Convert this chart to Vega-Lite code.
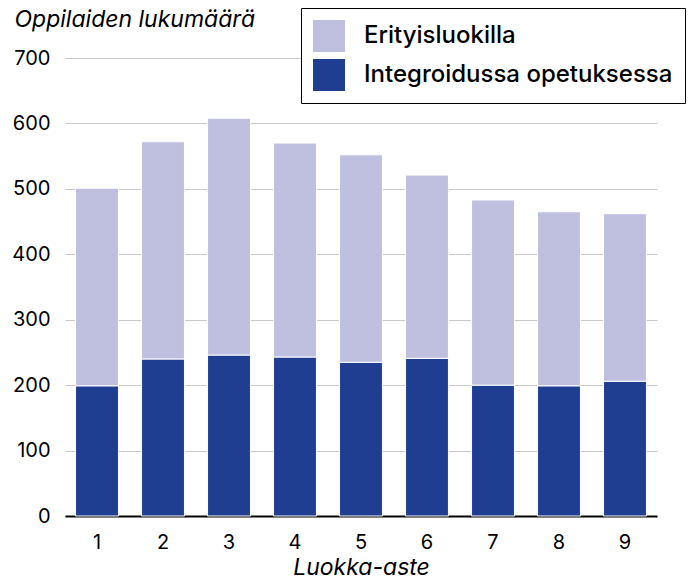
{
  "$schema": "https://vega.github.io/schema/vega-lite/v6.json",
  "width": 592,
  "height": 458,
  "autosize": "none",
  "padding": {"left": 65, "top": 58, "right": 31, "bottom": 65},
  "background": "white",
  "data": {
    "values": [
      {"luokka": "1", "ryhma": "Integroidussa opetuksessa", "arvo": 199, "jarj": 1},
      {"luokka": "1", "ryhma": "Erityisluokilla", "arvo": 302, "jarj": 2},
      {"luokka": "2", "ryhma": "Integroidussa opetuksessa", "arvo": 240, "jarj": 1},
      {"luokka": "2", "ryhma": "Erityisluokilla", "arvo": 332, "jarj": 2},
      {"luokka": "3", "ryhma": "Integroidussa opetuksessa", "arvo": 246, "jarj": 1},
      {"luokka": "3", "ryhma": "Erityisluokilla", "arvo": 362, "jarj": 2},
      {"luokka": "4", "ryhma": "Integroidussa opetuksessa", "arvo": 243, "jarj": 1},
      {"luokka": "4", "ryhma": "Erityisluokilla", "arvo": 327, "jarj": 2},
      {"luokka": "5", "ryhma": "Integroidussa opetuksessa", "arvo": 235, "jarj": 1},
      {"luokka": "5", "ryhma": "Erityisluokilla", "arvo": 317, "jarj": 2},
      {"luokka": "6", "ryhma": "Integroidussa opetuksessa", "arvo": 241, "jarj": 1},
      {"luokka": "6", "ryhma": "Erityisluokilla", "arvo": 280, "jarj": 2},
      {"luokka": "7", "ryhma": "Integroidussa opetuksessa", "arvo": 200, "jarj": 1},
      {"luokka": "7", "ryhma": "Erityisluokilla", "arvo": 283, "jarj": 2},
      {"luokka": "8", "ryhma": "Integroidussa opetuksessa", "arvo": 199, "jarj": 1},
      {"luokka": "8", "ryhma": "Erityisluokilla", "arvo": 266, "jarj": 2},
      {"luokka": "9", "ryhma": "Integroidussa opetuksessa", "arvo": 206, "jarj": 1},
      {"luokka": "9", "ryhma": "Erityisluokilla", "arvo": 256, "jarj": 2}
    ]
  },
  "mark": {"type": "bar", "stroke": "white", "strokeWidth": 1},
  "encoding": {
    "x": {
      "field": "luokka",
      "type": "ordinal",
      "scale": {"paddingInner": 0.35, "paddingOuter": 0.16},
      "axis": {
        "title": "Luokka-aste",
        "titleFont": "Inter",
        "titleFontSize": 23,
        "titleFontStyle": "italic",
        "titleFontWeight": "normal",
        "titleColor": "black",
        "titlePadding": 4,
        "labelAngle": 0,
        "labelFont": "Inter",
        "labelFontSize": 20,
        "labelColor": "black",
        "labelPadding": 16,
        "ticks": false,
        "domainColor": "black",
        "domainWidth": 2,
        "grid": false
      }
    },
    "y": {
      "field": "arvo",
      "type": "quantitative",
      "stack": "zero",
      "scale": {"domain": [0, 700]},
      "axis": {
        "title": "Oppilaiden lukumäärä",
        "titleAngle": 0,
        "titleAlign": "left",
        "titleBaseline": "alphabetic",
        "titleX": -51,
        "titleY": -32,
        "titleFont": "Inter",
        "titleFontSize": 23,
        "titleFontStyle": "italic",
        "titleFontWeight": "normal",
        "titleColor": "black",
        "values": [0, 100, 200, 300, 400, 500, 600, 700],
        "labelFont": "Inter",
        "labelFontSize": 20,
        "labelColor": "black",
        "labelPadding": 15,
        "ticks": false,
        "domain": false,
        "grid": true,
        "gridColor": "#c8c8c8",
        "gridWidth": 1
      }
    },
    "color": {
      "field": "ryhma",
      "type": "nominal",
      "scale": {
        "domain": ["Erityisluokilla", "Integroidussa opetuksessa"],
        "range": ["#bfbfe0", "#1f3d91"]
      },
      "legend": {
        "title": null,
        "orient": "none",
        "legendX": 236,
        "legendY": -50,
        "padding": 12,
        "fillColor": "white",
        "strokeColor": "black",
        "symbolType": "square",
        "symbolSize": 1024,
        "symbolStrokeWidth": 0,
        "labelFont": "Inter",
        "labelFontSize": 24,
        "labelFontWeight": 500,
        "labelColor": "black",
        "labelOffset": 19,
        "labelLimit": 500,
        "rowPadding": 7
      }
    },
    "order": {"field": "jarj", "type": "quantitative"}
  },
  "config": {"view": {"stroke": null}}
}
